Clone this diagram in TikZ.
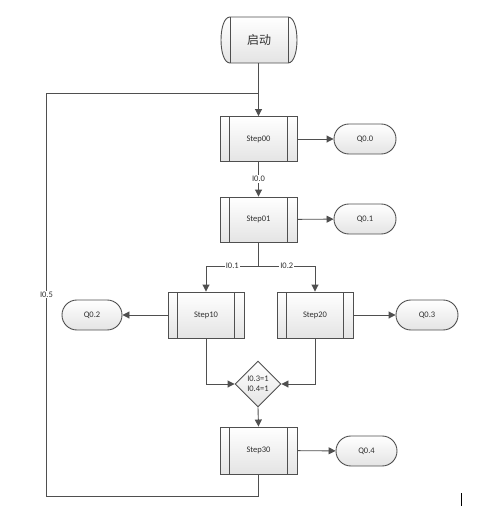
\documentclass[tikz,border=0pt]{standalone}
\usepackage{fontspec}
\setmainfont{Carlito}
\newfontfamily\cjk{Noto Sans CJK SC}
\usetikzlibrary{shapes.geometric,arrows.meta}
\definecolor{linec}{HTML}{4F4F4F}
\definecolor{txtc}{HTML}{303030}
\definecolor{fillb}{HTML}{E4E4E4}
\begin{document}
\begin{tikzpicture}[x=1pt,y=-1pt,
  every node/.style={text=txtc},
  conn/.style={draw=linec,line width=0.9pt},
  arr/.style={conn,-{Triangle[length=7pt,width=7pt]}},
  stepbox/.style={draw=linec,line width=0.9pt,top color=white,bottom color=fillb,
    minimum width=77pt,minimum height=45pt,inner sep=0pt,font=\fontsize{8.5}{10}\selectfont,
    path picture={\draw[linec,line width=0.9pt]
      ([xshift=9.5pt]path picture bounding box.north west) -- ([xshift=9.5pt]path picture bounding box.south west)
      ([xshift=-9.5pt]path picture bounding box.north east) -- ([xshift=-9.5pt]path picture bounding box.south east);}},
  outbox/.style={draw=linec,line width=0.9pt,top color=white,bottom color=fillb,
    minimum width=62pt,minimum height=30pt,inner sep=0pt,rounded corners=14.9pt,
    font=\fontsize{8.5}{10}\selectfont},
  decbox/.style={diamond,draw=linec,line width=0.9pt,top color=white,bottom color=fillb,
    minimum width=46pt,minimum height=46pt,inner sep=0pt,align=center,
    font=\fontsize{8.5}{10}\selectfont},
  lbl/.style={fill=white,inner sep=1pt,font=\fontsize{8.5}{10}\selectfont}]
\useasboundingbox (0,0) rectangle (480,512);
% start terminal
\path[draw=linec,line width=0.9pt,top color=white,bottom color=fillb]
  (230,17) -- (288,17) .. controls (300,17) and (300,63) .. (288,63)
  -- (230,63) .. controls (218,63) and (218,17) .. (230,17) -- cycle;
\draw[linec,line width=0.9pt] (230,17) -- (230,63) (288,17) -- (288,63);
\node[inner sep=0pt,font=\cjk\fontsize{12}{14}\selectfont] (start) at (259,40) {启动};
\coordinate (startb) at (258.5,63);
% nodes
\node[stepbox] (s00) at (258.5,139) {Step00};
\node[outbox] (q00) at (365,139) {Q0.0};
\node[stepbox] (s01) at (258.5,219.5) {Step01};
\node[outbox] (q01) at (365,219) {Q0.1};
\node[stepbox,minimum width=76pt,minimum height=46pt] (s10) at (206,315) {Step10};
\node[stepbox,minimum width=76pt,minimum height=46pt] (s20) at (315,315) {Step20};
\node[outbox,minimum width=60pt] (q02) at (92,315) {Q0.2};
\node[outbox] (q03) at (427,315) {Q0.3};
\node[decbox] (d) at (258,384) {I0.3=1\\I0.4=1};
\node[stepbox,minimum height=47pt] (s30) at (258.5,450.5) {Step30};
\node[outbox,minimum width=61pt] (q04) at (366.5,451) {Q0.4};
% connectors
\coordinate (lt) at (46.5,93);
\coordinate (lb) at (46.5,496);
\coordinate (br) at (258.5,266);
\draw[arr] (startb) -- (s00.north);
\draw[conn] (s30.south) |- (lb) -- node[lbl]{I0.5} (lt) -- (startb |- lt);
\draw[arr] (s00) -- (q00);
\draw[arr] (s00) -- node[lbl]{I0.0} (s01);
\draw[arr] (s01) -- (q01);
\draw[conn] (s01.south) -- (br);
\draw[arr] (br) -- node[lbl]{I0.1} (s10.north |- br) -- (s10.north);
\draw[arr] (br) -- node[lbl]{I0.2} (s20.north |- br) -- (s20.north);
\draw[arr] (s10) -- (q02);
\draw[arr] (s20) -- (q03);
\draw[arr] (s10.south) |- (d.west);
\draw[arr] (s20.south) |- (d.east);
\draw[arr] (d.south) -- (s30.north);
\draw[arr] (s30) -- (q04);
% cursor mark
\draw[black,line width=1pt] (461,493) -- (461,506);
\end{tikzpicture}
\end{document}
